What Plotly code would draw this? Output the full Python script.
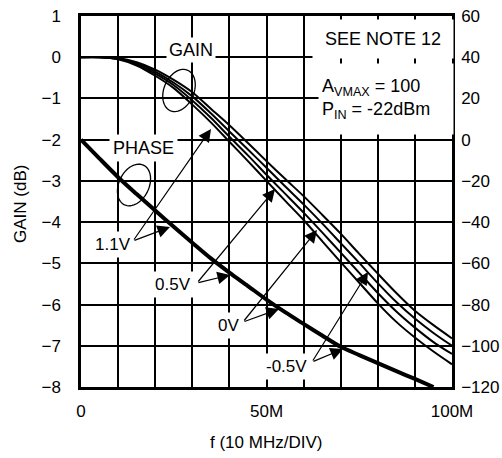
import numpy as np
import plotly.graph_objects as go

# ---------------- data ----------------
freq_mhz = [0, 5, 10, 15, 20, 25, 30, 35, 40, 45, 50, 55, 60, 65, 70, 75, 80, 85, 90, 95, 100]
gain_1v1 = [0, 0, -0.05, -0.20, -0.45, -0.75, -1.15, -1.58, -2.05, -2.52, -3.00, -3.48, -3.95,
            -4.46, -4.97, -5.47, -5.97, -6.42, -6.80, -7.14, -7.45]
gain_0v5 = [0, 0, -0.04, -0.17, -0.40, -0.68, -1.05, -1.47, -1.93, -2.38, -2.85, -3.31, -3.77,
            -4.25, -4.74, -5.23, -5.72, -6.17, -6.56, -6.91, -7.20]
gain_0v = [0, 0, -0.03, -0.14, -0.35, -0.62, -0.95, -1.36, -1.80, -2.24, -2.68, -3.13, -3.57,
           -4.03, -4.51, -4.99, -5.48, -5.94, -6.34, -6.69, -7.00]
gain_m0v5 = [0, 0, -0.02, -0.12, -0.30, -0.55, -0.85, -1.25, -1.65, -2.08, -2.52, -2.95, -3.37,
             -3.82, -4.28, -4.77, -5.25, -5.72, -6.15, -6.50, -6.82]

phase_freq_mhz = [0, 5, 10, 15, 20, 25, 30, 35, 40, 45, 50, 55, 60, 65, 70, 75, 80, 85, 90, 95]
phase_deg = [0, -9.2, -18.2, -26.4, -34.4, -42.3, -50.0, -57.6, -64.5, -71.0, -77.6, -83.7,
             -89.4, -95.0, -100.5, -104.5, -108.4, -112.3, -116.1, -120.0]

x_tick_vals = [0, 10, 20, 30, 40, 50, 60, 70, 80, 90, 100]
x_tick_text = ["0", "", "", "", "", "50M", "", "", "", "", "100M"]
gain_ticks = [-8, -7, -6, -5, -4, -3, -2, -1, 0, 1]
phase_ticks = [-120, -100, -80, -60, -40, -20, 0, 20, 40, 60]

# ---------------- layout geometry ----------------
W, H = 502, 458
L, R, T, B = 81, 50, 16, 71
PW, PH = W - L - R, H - T - B
XMIN, XMAX = 0, 100
GMIN, GMAX = -8, 1


def fx(px):  # pixel -> frequency
    return XMIN + (px - L) / PW * (XMAX - XMIN)


def gy(py):  # pixel -> gain
    return GMAX - (py - T) / PH * (GMAX - GMIN)


FONT = "Arial, Liberation Sans, Helvetica, sans-serif"

fig = go.Figure()
for g in [gain_1v1, gain_0v5, gain_0v, gain_m0v5]:
    fig.add_trace(go.Scatter(x=freq_mhz, y=g, mode="lines", line=dict(color="black", width=2, shape="spline", smoothing=0.8),
                             showlegend=False, hoverinfo="skip"))
fig.add_trace(go.Scatter(x=phase_freq_mhz, y=phase_deg, yaxis="y2", mode="lines",
                         line=dict(color="black", width=4, shape="spline", smoothing=0.8),
                         showlegend=False, hoverinfo="skip"))

annotations = []


def label(text, cx, cy, size=17, **kw):
    annotations.append(dict(x=fx(cx), y=gy(cy), xref="x", yref="y", text=text, showarrow=False,
                            font=dict(family=FONT, size=size, color="black"), bgcolor="white",
                            borderpad=kw.pop("borderpad", 3), **kw))


def arrow(tail, tip):
    annotations.append(dict(x=fx(tip[0]), y=gy(tip[1]), ax=fx(tail[0]), ay=gy(tail[1]),
                            xref="x", yref="y", axref="x", ayref="y", text="", showarrow=True,
                            arrowhead=2, arrowsize=2.1, arrowwidth=1.2, arrowcolor="black"))


label("GAIN", 191, 50, size=18, borderpad=2)
label("PHASE", 143, 148, size=18, borderpad=3)
label("SEE NOTE 12", 383, 39, size=18, width=134, height=32)
label("A<sub>VMAX</sub> = 100<br>P<sub>IN</sub> = -22dBm", 386, 99, size=18, width=128, height=64, align="left")
label("1.1V", 113, 244)
label("0.5V", 173, 284)
label("0V", 228, 325)
label("-0.5V", 286, 366)

arrow((133, 241), (211, 129))
arrow((133, 241), (170, 227))
arrow((197, 283), (275, 189))
arrow((197, 283), (230, 275))
arrow((243, 322), (317, 230))
arrow((243, 322), (279, 309))
arrow((312, 362), (368, 272))
arrow((312, 362), (343, 349))

# axis titles
annotations.append(dict(x=(21 - L) / PW, y=(H - B - 204) / PH, xref="paper", yref="paper", text="GAIN (dB)",
                        textangle=-90, showarrow=False, xanchor="center", yanchor="middle",
                        font=dict(family=FONT, size=17, color="black")))
annotations.append(dict(x=(266 - L) / PW, y=(H - B - 442) / PH, xref="paper", yref="paper", text="f (10 MHz/DIV)",
                        showarrow=False, xanchor="center", yanchor="middle",
                        font=dict(family=FONT, size=17, color="black")))


def ellipse_path(cx, cy, a, b, tilt_deg):
    t = np.linspace(0, 2 * np.pi, 60)
    th = np.radians(tilt_deg)
    ex = a * np.cos(t)
    ey = b * np.sin(t)
    px = cx + ex * np.cos(th) - ey * np.sin(th)
    py = cy + ex * np.sin(th) + ey * np.cos(th)
    pts = [f"{fx(u):.4f},{gy(v):.4f}" for u, v in zip(px, py)]
    return "M " + " L ".join(pts) + " Z"


shapes = [
    dict(type="path", path=ellipse_path(179, 90.5, 15, 22, 23), xref="x", yref="y",
         line=dict(color="black", width=1.3)),
    dict(type="path", path=ellipse_path(134, 185, 15, 22, 26), xref="x", yref="y",
         line=dict(color="black", width=1.3)),
]

axis_common = dict(showline=True, linecolor="black", linewidth=2.5, mirror=True, zeroline=False,
                   tickfont=dict(family=FONT, size=17, color="black"), ticks="", automargin=False)

fig.update_layout(
    width=W, height=H,
    margin=dict(l=L, r=R, t=T, b=B, pad=0, autoexpand=False),
    paper_bgcolor="white", plot_bgcolor="white",
    xaxis=dict(range=[XMIN, XMAX], tickvals=x_tick_vals, ticktext=x_tick_text, showgrid=True,
               gridcolor="black", gridwidth=1.5, ticklabelstandoff=7, **axis_common),
    yaxis=dict(range=[GMIN, GMAX], tickvals=gain_ticks, showgrid=True, gridcolor="black", gridwidth=1.5,
               ticklabelstandoff=14, **axis_common),
    yaxis2=dict(range=[-120, 60], tickvals=phase_ticks, overlaying="y", side="right", showgrid=False,
                ticklabelstandoff=3, **axis_common),
    annotations=annotations,
    shapes=shapes,
    showlegend=False,
)

fig.write_html("out.html", config={"displayModeBar": False},
               post_script="document.body.style.margin='0px';document.body.style.padding='0px';")
